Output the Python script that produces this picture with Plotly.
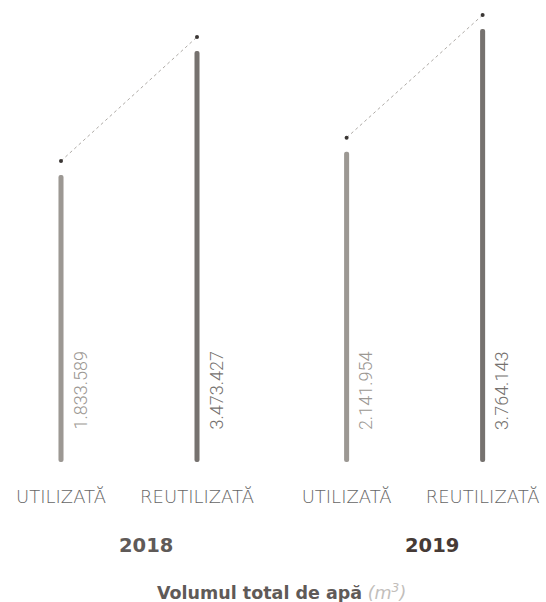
import plotly.graph_objects as go

years = ["2018", "2019"]
categories = ["UTILIZATĂ", "REUTILIZATĂ"]
values_2018 = [1833589, 3473427]
values_2019 = [2141954, 3764143]
series = [values_2018, values_2019]

bar_colors = ["#9c9893", "#76726f"]
year_colors = ["#5f5a58", "#463a36"]
font_txt = "DejaVu Sans"

BASE = -1.963e6
TOP = 4.148e6
GROUP_GAP = 2.1
DOT_OFFSET = 0.185e6

def fmt(v):
    return f"{v:,}".replace(",", ".")

fig = go.Figure()
annotations = []
tickvals, ticktext = [], []

for g, (yr, vals) in enumerate(zip(years, series)):
    xs = [g * GROUP_GAP + i for i in range(len(categories))]
    for i, (x, v) in enumerate(zip(xs, vals)):
        fig.add_trace(go.Bar(
            x=[x], y=[v - BASE], base=[BASE], width=0.037,
            marker=dict(color=bar_colors[i], cornerradius=3, line=dict(width=0)),
            hoverinfo="skip", showlegend=False,
        ))
        annotations.append(dict(
            x=x, y=BASE, xref="x", yref="y", text=fmt(v), textangle=-90,
            showarrow=False, xanchor="center", yanchor="bottom",
            xshift=19, yshift=30,
            font=dict(family="Roboto", size=18, color=bar_colors[i], weight=300),
        ))
        tickvals.append(x)
        ticktext.append(categories[i])
    dot_y = [v + DOT_OFFSET for v in vals]
    fig.add_trace(go.Scatter(
        x=xs, y=dot_y, mode="lines",
        line=dict(color="#aeaaa6", width=1, dash="dot"),
        hoverinfo="skip", showlegend=False,
    ))
    fig.add_trace(go.Scatter(
        x=xs, y=dot_y, mode="markers",
        marker=dict(color="#3a3634", size=4),
        hoverinfo="skip", showlegend=False,
    ))
    annotations.append(dict(
        x=sum(xs) / len(xs), y=0, xref="x", yref="paper", text=yr,
        showarrow=False, xanchor="center", yanchor="middle",
        xshift=17, yshift=-83,
        font=dict(family=font_txt, size=19.5, color=year_colors[g], weight="bold"),
    ))

annotations.append(dict(
    x=0.515, y=0, xref="paper", yref="paper",
    text="<b>Volumul total de apă</b> <i><span style='color:#c2bebb;font-weight:200'>(m<sup>3</sup>)</span></i>",
    showarrow=False, xanchor="center", yanchor="middle", yshift=-130,
    font=dict(family=font_txt, size=17.5, color="#5f5a58"),
))

fig.update_layout(
    width=546, height=602,
    margin=dict(l=0, r=0, t=0, b=140),
    paper_bgcolor="white", plot_bgcolor="white",
    barmode="overlay",
    xaxis=dict(range=[-0.4485, 3.566], tickvals=tickvals, ticktext=ticktext,
               showgrid=False, zeroline=False, showline=False, ticks="",
               ticklabelstandoff=22,
               tickfont=dict(family=font_txt, size=18, color="#666666", weight=200)),
    yaxis=dict(range=[BASE, TOP], visible=False, showgrid=False, zeroline=False),
    annotations=annotations,
)

fig.write_html("out.html", config={"displayModeBar": False},
               post_script="document.body.style.margin='0';document.body.style.overflow='hidden';")
